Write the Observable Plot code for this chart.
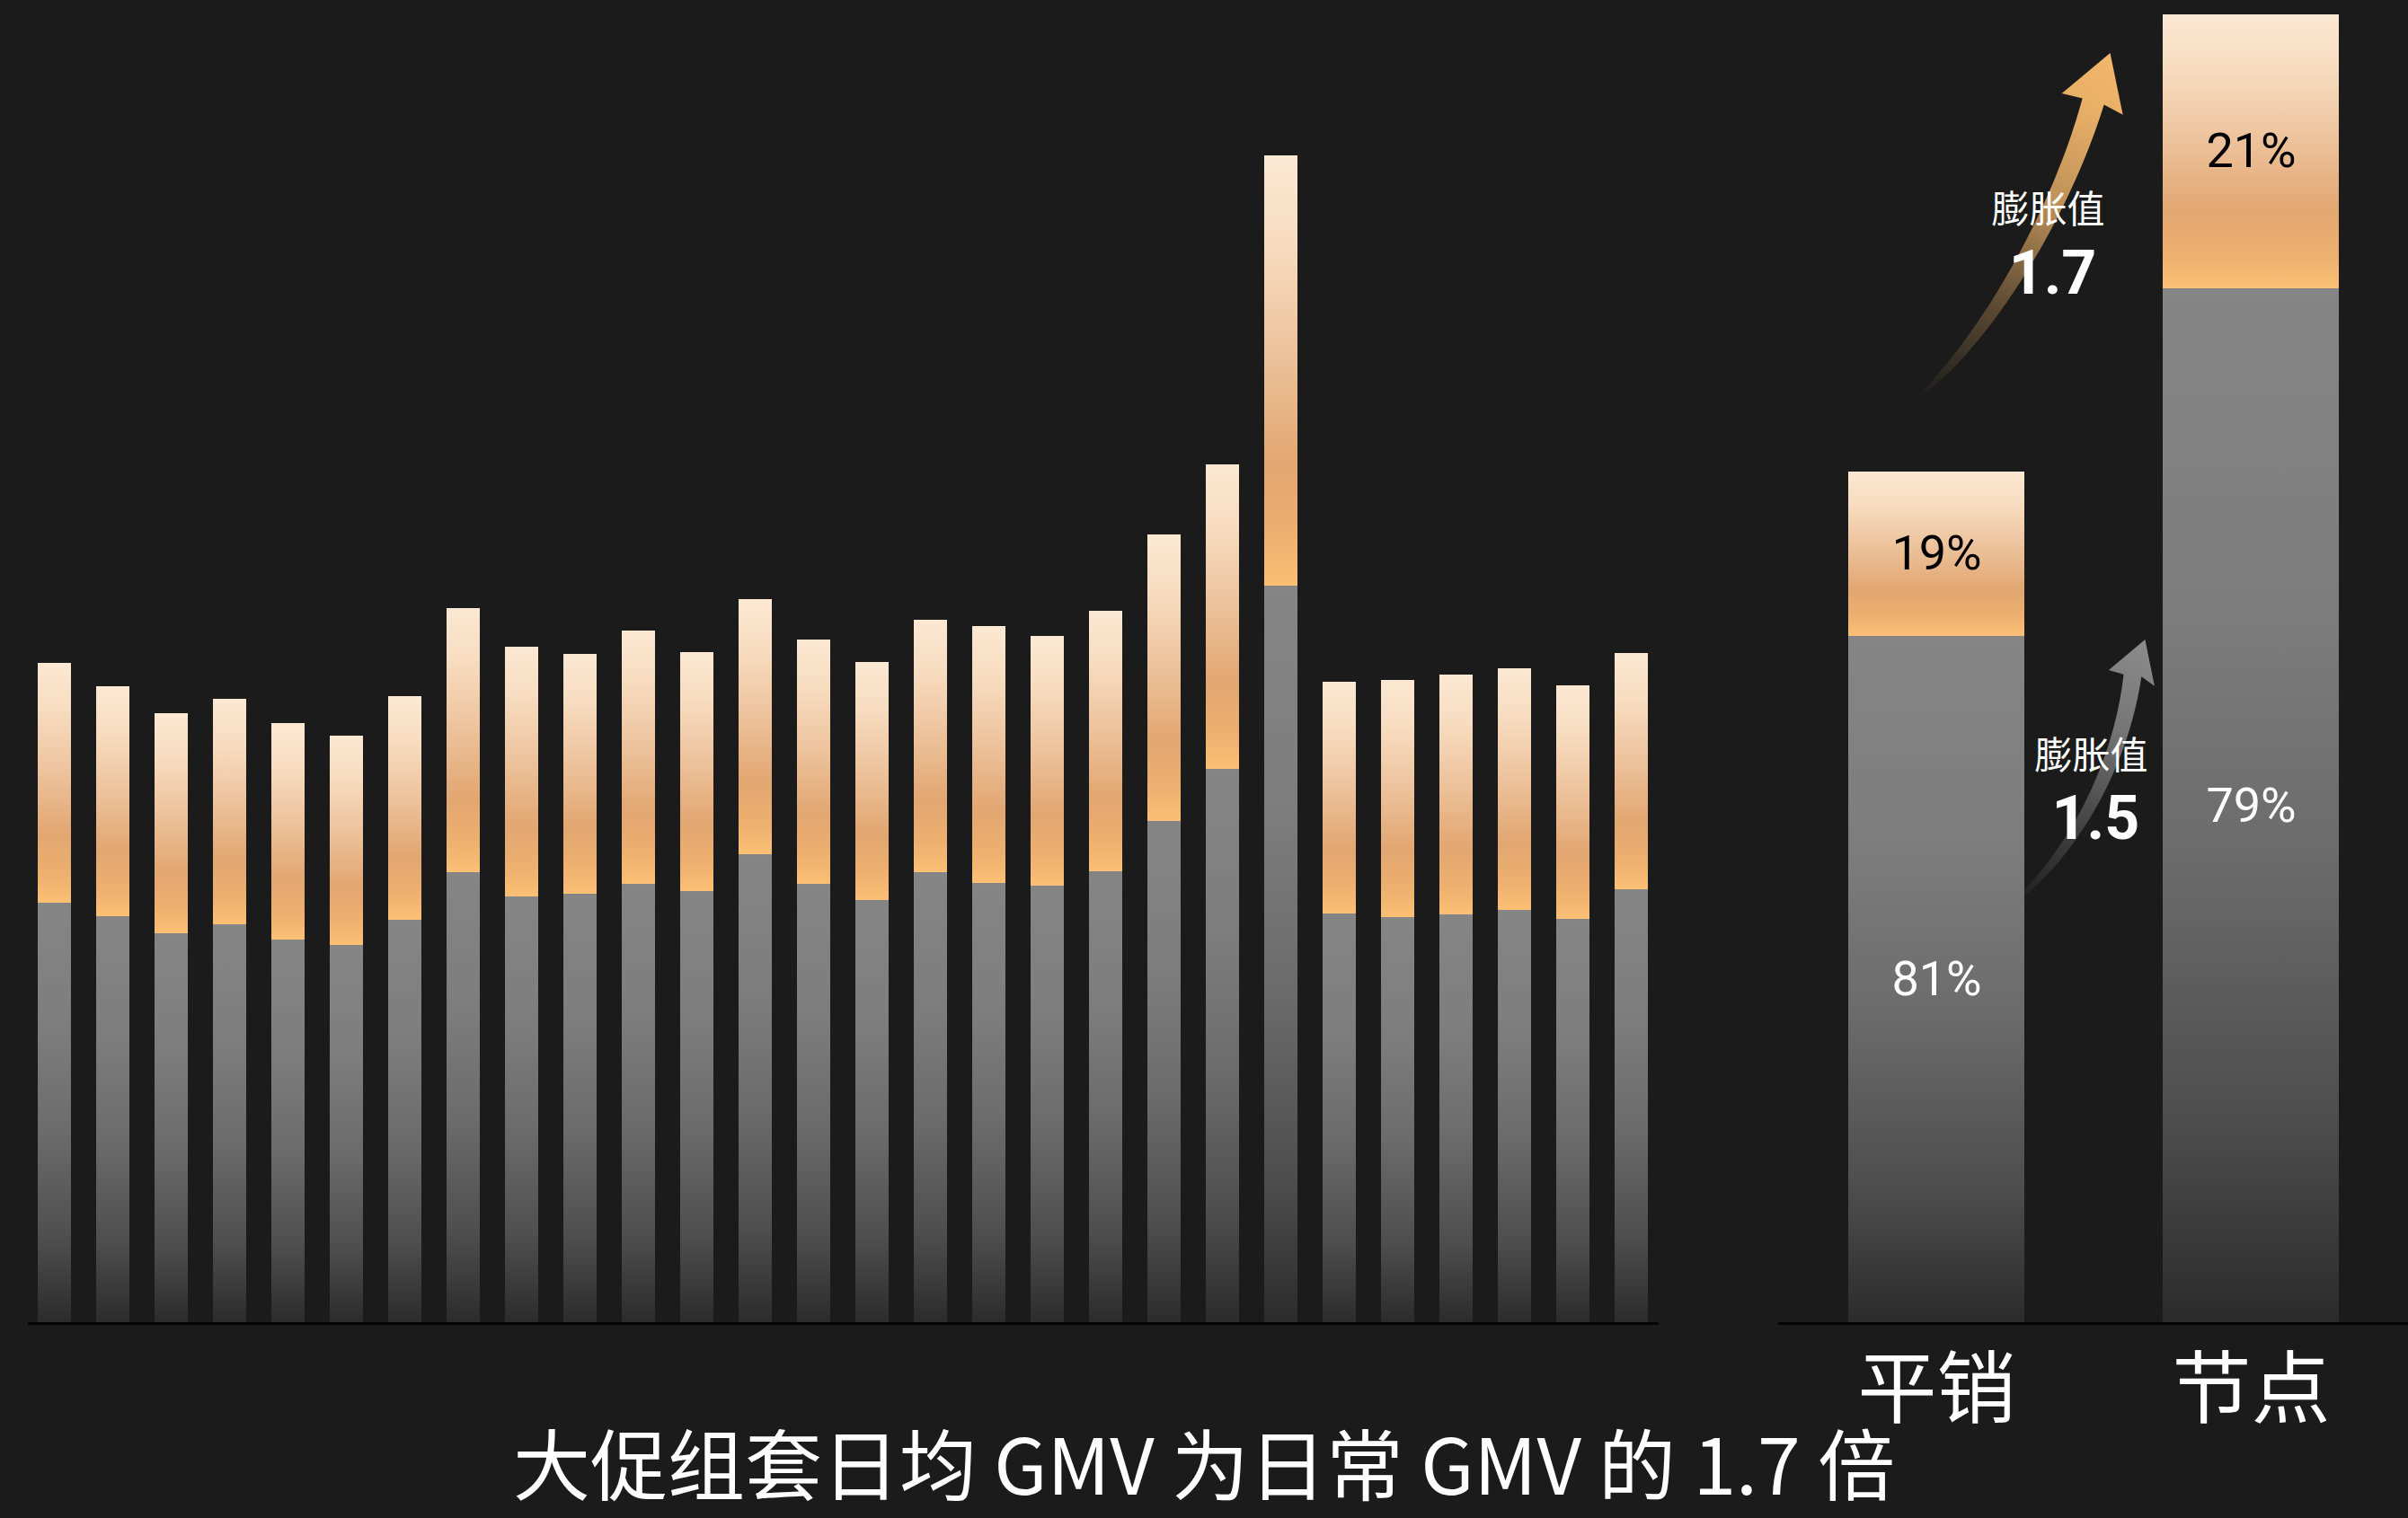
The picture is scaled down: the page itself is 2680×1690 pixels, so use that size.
<!DOCTYPE html>
<html>
<head>
<meta charset="utf-8">
<script src="https://cdn.jsdelivr.net/npm/d3@7"></script>
<script src="https://cdn.jsdelivr.net/npm/@observablehq/plot@0.6"></script>
<style>
html, body { margin: 0; padding: 0; background: #1b1b1b; }
#root { position: relative; width: 2680px; height: 1690px; overflow: hidden; background: #1b1b1b;
  font-family: "Noto Sans CJK SC", "Noto Sans", sans-serif; }
#left { position: absolute; left: 0; top: 0; }
#right { position: absolute; left: 1979px; top: 0; }
#title { position: absolute; left: 0; width: 2680px; top: 1584px; text-align: center; color: #ffffff;
  font-size: 86px; line-height: 86px; white-space: pre; }
</style>
</head>
<body>
<div id="root">
  <div id="left"></div>
  <div id="right"></div>
  <div id="title"></div>
</div>
<script>
// ---------------- data ----------------
const days = ["1日","2日","3日","4日","5日","6日","7日","8日","9日","10日","11日","12日","13日","14日",
              "15日","16日","17日","18日","19日","20日","21日","22日","23日","24日","25日","26日","27日","28日"];
// daily (日常) GMV part of each day, grey
const dailyGMV = [46.8,45.3,43.4,44.4,42.7,42.1,44.9,50.2,47.5,47.8,48.9,48.1,52.2,48.9,
                  47.1,50.2,49.0,48.7,50.3,55.9,61.7,82.1,45.6,45.2,45.5,46.0,45.0,48.3];
// promotion (大促组套) GMV part of each day, orange
const promoGMV = [26.7,25.6,24.5,25.1,24.1,23.3,24.9,29.4,27.8,26.7,28.2,26.6,28.4,27.2,
                  26.5,28.1,28.6,27.8,29.0,31.9,33.9,47.9,25.8,26.4,26.7,26.9,26.0,26.3];

const groups = ["平销", "节点"];
const groupDaily = [76.5, 115.2];
const groupPromo = [18.3, 30.5];

const titleText = "大促组套日均 GMV 为日常 GMV 的 1.7 倍";
const expansionText = "膨胀值";

// ---------------- derived tables ----------------
const segL = [];
days.forEach((d, i) => {
  segL.push({day: d, part: "daily", y1: 0, y2: dailyGMV[i]});
  segL.push({day: d, part: "promo", y1: dailyGMV[i], y2: dailyGMV[i] + promoGMV[i]});
});
const segR = [];
groups.forEach((g, i) => {
  const tot = groupDaily[i] + groupPromo[i];
  segR.push({group: g, part: "daily", y1: 0, y2: groupDaily[i], pct: Math.round(groupDaily[i] / tot * 100) + "%"});
  segR.push({group: g, part: "promo", y1: groupDaily[i], y2: tot, pct: Math.round(groupPromo[i] / tot * 100) + "%"});
});
const totals = groups.map((g, i) => groupDaily[i] + groupPromo[i]);
const promoRatio = (groupPromo[1] / groupPromo[0]).toFixed(1);
const totalRatio = (totals[1] / totals[0]).toFixed(1);

// ---------------- shared style ----------------
const H = 1690, MB = 217;
const yDomain = [0, 147.3];
const grayStops = [[0, "#858585"], [0.3, "#7d7d7d"], [0.55, "#6b6b6b"], [0.8, "#4e4e4e"], [1, "#2b2b2b"]];
const orangeStops = [[0, "#fce8d3"], [0.2, "#f7dcc0"], [0.45, "#edc39d"], [0.72, "#e2a671"], [0.88, "#edb06f"], [1, "#fbbf75"]];
const numFont = 'Roboto, "Noto Sans", sans-serif';

function gradientDefs(prefix) {
  return () => {
    const defs = d3.create("svg:defs");
    const add = (id, stops) => {
      const lg = defs.append("linearGradient").attr("id", id)
        .attr("x1", 0).attr("y1", 0).attr("x2", 0).attr("y2", 1);
      stops.forEach(([o, c]) => lg.append("stop").attr("offset", o).attr("stop-color", c));
    };
    add(prefix + "-gray", grayStops);
    add(prefix + "-orange", orangeStops);
    return defs.node();
  };
}

// ---------------- left chart ----------------
const left = Plot.plot({
  width: 1870, height: H,
  marginLeft: 31, marginRight: 24, marginTop: 0, marginBottom: MB,
  style: {background: "transparent", overflow: "visible"},
  x: {domain: days, paddingInner: 0.43, paddingOuter: 0.175, axis: null},
  y: {domain: yDomain, axis: null},
  marks: [
    gradientDefs("gL"),
    Plot.barY(segL.filter(d => d.part === "daily"), {x: "day", y1: "y1", y2: "y2", fill: "url(#gL-gray)"}),
    Plot.barY(segL.filter(d => d.part === "promo"), {x: "day", y1: "y1", y2: "y2", fill: "url(#gL-orange)"}),
    Plot.ruleY([0], {stroke: "#050505", strokeWidth: 3})
  ]
});
document.getElementById("left").appendChild(left);

// ---------------- arrow annotation mark ----------------
function cubicPt(p, t) {
  const m = 1 - t;
  return [0, 1].map(k => m*m*m*p[0][k] + 3*m*m*t*p[1][k] + 3*m*t*t*p[2][k] + t*t*t*p[3][k]);
}
function cubicDer(p, t) {
  const m = 1 - t;
  return [0, 1].map(k => 3*m*m*(p[1][k]-p[0][k]) + 6*m*t*(p[2][k]-p[1][k]) + 3*t*t*(p[3][k]-p[2][k]));
}
function arrowPath(P, tip, shaftW, headW, notch) {
  const N = 60, L = [], R = [];
  for (let i = 0; i <= N; i++) {
    const t = i / N;
    const pt = cubicPt(P, t);
    let d = cubicDer(P, t);
    const len = Math.hypot(d[0], d[1]);
    d = [d[0] / len, d[1] / len];
    const n = [-d[1], d[0]];
    const w = shaftW / 2 * Math.pow(t, 0.6);
    L.push([pt[0] + n[0] * w, pt[1] + n[1] * w]);
    R.push([pt[0] - n[0] * w, pt[1] - n[1] * w]);
  }
  const E = P[3];
  const dl = Math.hypot(tip[0] - E[0], tip[1] - E[1]);
  const dir = [(tip[0] - E[0]) / dl, (tip[1] - E[1]) / dl];
  const perp = [-dir[1], dir[0]];
  const c1 = [E[0] + perp[0] * headW / 2 - dir[0] * notch, E[1] + perp[1] * headW / 2 - dir[1] * notch];
  const c2 = [E[0] - perp[0] * headW / 2 - dir[0] * notch, E[1] - perp[1] * headW / 2 - dir[1] * notch];
  const pts = [...L, c1, tip, c2, ...R.reverse()];
  return "M" + pts.map(p => p[0].toFixed(2) + "," + p[1].toFixed(2)).join("L") + "Z";
}

function expansionArrows(index, scales) {
  const {x, y} = scales;
  const bw = x.bandwidth();
  const xc0 = x(groups[0]) + bw / 2, xc1 = x(groups[1]) + bw / 2;
  const X = u => xc0 + u * (xc1 - xc0);
  const P = (u, v) => [X(u), y(v)];
  const g = d3.create("svg:g");
  const defs = g.append("defs");
  const specs = [
    {id: "arrO", pts: [P(-0.060, 103.1), P(0.128, 108.3), P(0.385, 122.3), P(0.499, 136.0)], tip: P(0.553, 141.4),
     shaftW: 25, headW: 72, color: "#f3b76c",
     stops: [[0, 0], [0.3, 0.3], [0.6, 0.75], [0.85, 0.95], [1, 1]],
     label: [0.356, 124.0], num: [0.370, 117.0], value: promoRatio},
    {id: "arrG", pts: [P(0.225, 46.2), P(0.413, 51.3), P(0.584, 61.3), P(0.624, 72.1)], tip: P(0.664, 76.1),
     shaftW: 20, headW: 54, color: "#8c8c8c",
     stops: [[0, 0], [0.35, 0.35], [0.7, 0.8], [1, 1]],
     label: [0.493, 63.2], num: [0.507, 56.3], value: totalRatio}
  ];
  specs.forEach(s => {
    const lg = defs.append("linearGradient").attr("id", s.id).attr("gradientUnits", "userSpaceOnUse")
      .attr("x1", s.pts[0][0]).attr("y1", s.pts[0][1]).attr("x2", s.tip[0]).attr("y2", s.tip[1]);
    s.stops.forEach(([o, a]) => lg.append("stop").attr("offset", o).attr("stop-color", s.color).attr("stop-opacity", a));
    g.append("path").attr("d", arrowPath(s.pts, s.tip, s.shaftW, s.headW, 3)).attr("fill", `url(#${s.id})`);
  });
  specs.forEach(s => {
    g.append("text").attr("x", X(s.label[0])).attr("y", y(s.label[1])).attr("dy", "0.35em")
      .attr("text-anchor", "middle").attr("fill", "#ffffff").attr("font-size", 42)
      .attr("font-family", '"Noto Sans CJK SC", sans-serif').text(expansionText);
    g.append("text").attr("x", X(s.num[0])).attr("y", y(s.num[1])).attr("dy", "0.35em")
      .attr("text-anchor", "middle").attr("fill", "#ffffff").attr("font-size", 68).attr("font-weight", 700)
      .attr("font-family", numFont).text(s.value);
  });
  return g.node();
}

// ---------------- right chart ----------------
const right = Plot.plot({
  width: 701, height: H,
  marginLeft: 0, marginRight: 0, marginTop: 0, marginBottom: MB,
  style: {background: "transparent", overflow: "visible", color: "#ffffff",
          fontFamily: '"Noto Sans CJK SC", sans-serif', fontSize: "88px"},
  x: {domain: groups, paddingInner: 0.44, paddingOuter: 0.22},
  y: {domain: yDomain, axis: null},
  marks: [
    gradientDefs("gR"),
    Plot.barY(segR.filter(d => d.part === "daily"), {x: "group", y1: "y1", y2: "y2", fill: "url(#gR-gray)"}),
    Plot.barY(segR.filter(d => d.part === "promo"), {x: "group", y1: "y1", y2: "y2", fill: "url(#gR-orange)"}),
    Plot.ruleY([0], {stroke: "#050505", strokeWidth: 3}),
    Plot.axisX({tickSize: 0, tickPadding: 41, fontSize: 88, label: null}),
    expansionArrows,
    Plot.text(segR.filter(d => d.part === "daily"), {x: "group", y: d => (d.y1 + d.y2) / 2, text: "pct",
      fill: "#ffffff", fontSize: 54, fontFamily: numFont}),
    Plot.text(segR.filter(d => d.part === "promo"), {x: "group", y: d => (d.y1 + d.y2) / 2, text: "pct",
      fill: "#000000", fontSize: 54, fontFamily: numFont})
  ]
});
document.getElementById("right").appendChild(right);

document.getElementById("title").textContent = titleText;
</script>
</body>
</html>
